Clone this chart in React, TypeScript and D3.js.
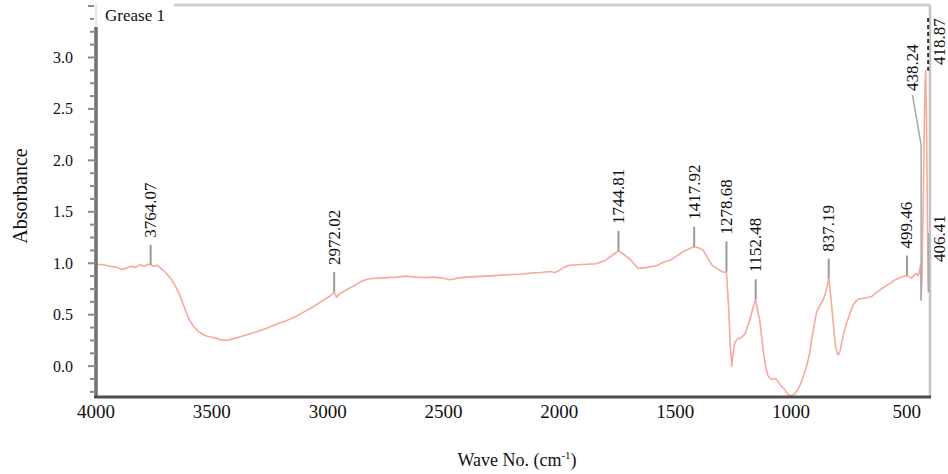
import React from 'react';
import * as d3 from 'd3';

// spectrum: wavenumber (cm-1) -> absorbance
const waveNumbers = [
  4000, 3970, 3940, 3910, 3890, 3870, 3850, 3830, 3810, 3790, 3775, 3764.07, 3750, 3735, 3720,
  3700, 3680, 3660, 3640, 3620, 3600, 3580, 3560, 3540, 3520, 3500, 3480, 3460, 3440, 3420,
  3400, 3370, 3340, 3300, 3260, 3220, 3180, 3140, 3100, 3060, 3020, 2990, 2972.02, 2962, 2950,
  2920, 2880, 2850, 2820, 2780, 2740, 2700, 2660, 2620, 2580, 2540, 2500, 2470, 2440, 2400,
  2360, 2320, 2280, 2240, 2200, 2160, 2120, 2080, 2040, 2020, 2000, 1980, 1955, 1920, 1880,
  1840, 1800, 1770, 1744.81, 1725, 1700, 1680, 1660, 1640, 1620, 1600, 1580, 1560, 1540, 1520,
  1500, 1480, 1460, 1440, 1417.92, 1400, 1380, 1360, 1340, 1320, 1300, 1285, 1278.68, 1270, 1262,
  1256, 1250, 1242, 1230, 1220, 1210, 1199, 1185, 1175, 1165, 1152.48, 1145, 1135, 1125, 1118,
  1110, 1100, 1090, 1080, 1070, 1062, 1050, 1040, 1030, 1020, 1010, 1000, 990, 980, 970,
  960, 950, 940, 930, 920, 910, 900, 890, 880, 870, 860, 850, 837.19, 830, 822,
  815, 808, 800, 795, 788, 780, 770, 760, 750, 740, 730, 720, 710, 690, 670,
  650, 630, 610, 590, 570, 550, 530, 510, 499.46, 490, 480, 470, 460, 451, 445,
  441, 438.24, 434, 428, 422, 418.87, 415, 411, 408, 406.41, 403, 400,
];

const absorbance = [
  0.99, 0.985, 0.97, 0.96, 0.94, 0.95, 0.97, 0.96, 0.985, 0.97, 0.99, 0.985, 0.97, 0.98, 0.95,
  0.91, 0.86, 0.79, 0.7, 0.58, 0.46, 0.39, 0.34, 0.31, 0.29, 0.28, 0.27, 0.255, 0.25, 0.26,
  0.27, 0.29, 0.31, 0.34, 0.37, 0.41, 0.44, 0.48, 0.53, 0.58, 0.64, 0.68, 0.72, 0.67, 0.7,
  0.74, 0.79, 0.83, 0.85, 0.855, 0.86, 0.865, 0.875, 0.865, 0.86, 0.865, 0.855, 0.84, 0.855, 0.865,
  0.87, 0.875, 0.88, 0.885, 0.89, 0.895, 0.905, 0.91, 0.92, 0.91, 0.93, 0.96, 0.98, 0.985, 0.99,
  0.995, 1.03, 1.08, 1.12, 1.09, 1.05, 1.0, 0.95, 0.955, 0.96, 0.97, 0.975, 1.0, 1.02, 1.03,
  1.06, 1.09, 1.12, 1.14, 1.16, 1.15, 1.13, 1.05, 0.98, 0.95, 0.92, 0.91, 0.92, 0.6, 0.2,
  0.0, 0.12, 0.23, 0.27, 0.27, 0.29, 0.31, 0.4, 0.47, 0.56, 0.65, 0.55, 0.45, 0.25, 0.12,
  0.0, -0.09, -0.12, -0.13, -0.12, -0.13, -0.17, -0.2, -0.22, -0.25, -0.28, -0.29, -0.28, -0.26, -0.22,
  -0.18, -0.12, -0.05, 0.02, 0.12, 0.27, 0.4, 0.52, 0.57, 0.61, 0.65, 0.72, 0.85, 0.72, 0.52,
  0.36, 0.2, 0.12, 0.11, 0.15, 0.24, 0.34, 0.42, 0.48, 0.55, 0.6, 0.63, 0.65, 0.66, 0.665,
  0.68, 0.72, 0.75, 0.78, 0.81, 0.84, 0.86, 0.875, 0.88, 0.87, 0.855, 0.88, 0.9, 0.88, 0.93,
  0.98, 0.64, 0.9, 1.8, 2.7, 2.87, 2.4, 1.4, 0.8, 0.72, 0.72, 0.74,
];

const peakLabels = [3764.07, 2972.02, 1744.81, 1417.92, 1278.68, 1152.48, 837.19, 499.46, 438.24, 418.87, 406.41];

const xTickLabels = [4000, 3500, 3000, 2500, 2000, 1500, 1000, 500];
const yTickLabels = [0.0, 0.5, 1.0, 1.5, 2.0, 2.5, 3.0];

const serif = '"Liberation Serif", Tinos, "Times New Roman", Times, "DejaVu Serif", serif';
const lineColor = '#f6a99d';

export default function App() {
  const width = 948;
  const height = 474;
  const left = 96, right = 930, top = 5, bottom = 397;

  const x = d3.scaleLinear().domain([4000, 400]).range([left, right]);
  const y = d3.scaleLinear().domain([-0.3, 3.51]).range([bottom, top]);

  const points = waveNumbers.map((w, i) => [w, absorbance[i]] as [number, number]);
  const path = d3.line<[number, number]>()
    .x(d => x(d[0]))
    .y(d => y(d[1]))(points) || '';

  const valueAt = (w: number) => absorbance[waveNumbers.indexOf(w)];
  const minorTicks = d3.range(-0.25, 3.51, 0.125);

  // leader length per label where it differs from the default
  const leader: Record<string, number> = { '1278.68': 30 };
  const txtStyle = { fontFamily: serif, fill: '#111' };

  return (
    <svg width={width} height={height} style={{ display: 'block', position: 'absolute', left: 0, top: 0 }}>
      <rect x={0} y={0} width={width} height={height} fill="#fff" />

      {/* frame */}
      <line x1={left} x2={right} y1={top} y2={top} stroke="#cfcfcf" strokeWidth={3} />
      <line x1={right} x2={right} y1={top} y2={bottom} stroke="#c4c4c4" strokeWidth={2.5} />

      {/* spectrum */}
      <path d={path} fill="none" stroke={lineColor} strokeWidth={1.6} strokeLinejoin="round" />

      {/* peak labels */}
      {peakLabels.map(p => {
        const px = x(p);
        const py = y(valueAt(p));
        const txt = p.toFixed(2);
        if (p === 438.24) {
          return (
            <g key={txt}>
              <polyline points={`${px},${py} ${px},145 912.5,95`} fill="none" stroke="#a9a9a9" strokeWidth={1.5} />
              <text transform={`translate(912.5,91) rotate(-90)`} style={txtStyle} fontSize={17} dominantBaseline="central">{txt}</text>
            </g>
          );
        }
        if (p === 418.87) {
          return (
            <g key={txt}>
              <line x1={px + 2.5} x2={px + 2.5} y1={18} y2={py} stroke="#333" strokeWidth={2} strokeDasharray="4 3" />
              <text transform={`translate(939,65) rotate(-90)`} style={txtStyle} fontSize={17} dominantBaseline="central">{txt}</text>
            </g>
          );
        }
        if (p === 406.41) {
          return (
            <g key={txt}>
              <line x1={px} x2={px} y1={py} y2={233} stroke="#a9a9a9" strokeWidth={1.5} />
              <text transform={`translate(939,262) rotate(-90)`} style={txtStyle} fontSize={17} dominantBaseline="central">{txt}</text>
            </g>
          );
        }
        const len = leader[txt] ?? 20;
        return (
          <g key={txt}>
            <line x1={px} x2={px} y1={py} y2={py - len} stroke="#9a9a9a" strokeWidth={2} />
            <text transform={`translate(${px},${py - len - 7}) rotate(-90)`} style={txtStyle} fontSize={17} dominantBaseline="central">{txt}</text>
          </g>
        );
      })}

      {/* y axis */}
      <line x1={left} x2={left} y1={top + 22} y2={bottom} stroke="#6f6f6f" strokeWidth={3.5} />
      {minorTicks.map(t => {
        const major = Math.abs(t * 2 - Math.round(t * 2)) < 1e-6;
        return <line key={t} x1={left - (major ? 8 : 6)} x2={left} y1={y(t)} y2={y(t)} stroke="#8a8a8a" strokeWidth={2} />;
      })}
      {yTickLabels.map(t => (
        <text key={t} x={73} y={y(t)} textAnchor="end" dominantBaseline="central" style={txtStyle} fontSize={16}>{t.toFixed(1)}</text>
      ))}

      {/* x axis */}
      <line x1={left - 2} x2={right + 1} y1={bottom} y2={bottom} stroke="#4f4f4f" strokeWidth={3} />
      {xTickLabels.map(t => (
        <text key={t} x={x(t)} y={418} textAnchor="middle" style={txtStyle} fontSize={19}>{t}</text>
      ))}

      {/* legend box */}
      <rect x={94} y={3} width={80} height={24} fill="#fff" />
      <line x1={96} x2={96} y1={4} y2={27} stroke="#ddd" strokeWidth={1.5} />
      <text x={105} y={21} style={txtStyle} fontSize={17}>Grease 1</text>

      {/* axis titles */}
      <text transform="translate(20,196) rotate(-90)" textAnchor="middle" dominantBaseline="central" style={txtStyle} fontSize={20}>Absorbance</text>
      <text x={517} y={466} textAnchor="middle" style={txtStyle} fontSize={18}>
        Wave No. (cm<tspan dy={-7} fontSize={11}>-1</tspan><tspan dy={7}>)</tspan>
      </text>
    </svg>
  );
}
